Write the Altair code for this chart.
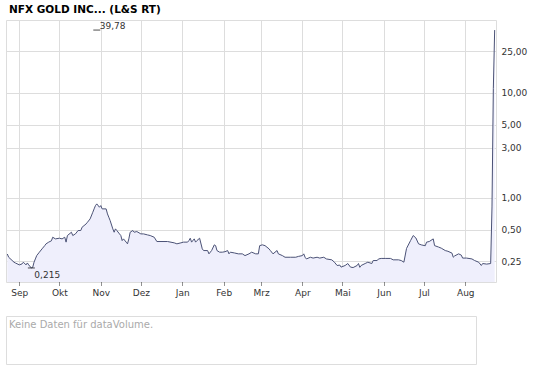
import altair as alt
import pandas as pd

# ---------------- data ----------------
start_date = "2020-08-22"
end_date = "2021-08-24"

day_offset = [1, 2, 6, 7, 10, 12, 13, 15, 16, 17, 19, 20, 21, 22, 23, 25, 27, 29, 30, 32,
              34, 35, 37, 40, 42, 44, 45, 46, 49, 50, 52, 54, 56, 57, 60, 61, 63, 65, 66, 67,
              68, 70, 71, 72, 75, 76, 77, 78, 80, 81, 82, 83, 85, 86, 87, 88, 90, 91, 92, 93,
              95, 96, 98, 101, 103, 106, 108, 111, 113, 121, 126, 128, 131, 133, 136, 137, 138, 139, 141, 142,
              143, 145, 147, 148, 151, 152, 154, 156, 157, 158, 160, 162, 164, 166, 167, 168, 171, 174, 177, 179,
              182, 184, 187, 189, 190, 192, 194, 197, 198, 200, 203, 204, 207, 209, 213, 217, 219, 222, 223, 224,
              225, 228, 230, 233, 235, 238, 240, 244, 246, 248, 250, 251, 254, 256, 258, 260, 263, 264, 265, 266,
              269, 271, 274, 275, 278, 279, 281, 284, 288, 290, 294, 296, 298, 300, 303, 305, 307, 309, 311, 314,
              315, 317, 320, 321, 324, 326, 329, 331, 334, 335, 336, 339, 341, 342, 345, 349, 351, 354, 356, 357,
              360, 363, 364, 365, 366]

price = [0.292, 0.272, 0.244, 0.240, 0.230, 0.235, 0.244, 0.230, 0.240, 0.230, 0.215, 0.218, 0.244, 0.262, 0.282, 0.304, 0.327, 0.351, 0.365, 0.379,
         0.390, 0.422, 0.407, 0.413, 0.407, 0.422, 0.379, 0.438, 0.471, 0.438, 0.454, 0.489, 0.489, 0.526, 0.565, 0.586, 0.631, 0.730, 0.786, 0.845,
         0.877, 0.815, 0.845, 0.786, 0.786, 0.704, 0.655, 0.608, 0.507, 0.471, 0.507, 0.489, 0.454, 0.438, 0.392, 0.407, 0.379, 0.365, 0.407, 0.471,
         0.489, 0.471, 0.478, 0.454, 0.454, 0.444, 0.438, 0.422, 0.384, 0.384, 0.373, 0.365, 0.373, 0.379, 0.379, 0.392, 0.413, 0.379, 0.407, 0.379,
         0.392, 0.413, 0.327, 0.315, 0.315, 0.293, 0.315, 0.357, 0.351, 0.315, 0.304, 0.304, 0.307, 0.315, 0.293, 0.304, 0.299, 0.293, 0.293, 0.282,
         0.293, 0.304, 0.293, 0.293, 0.351, 0.357, 0.351, 0.327, 0.315, 0.293, 0.315, 0.293, 0.282, 0.272, 0.272, 0.272, 0.277, 0.282, 0.293, 0.272,
         0.262, 0.272, 0.267, 0.272, 0.267, 0.272, 0.262, 0.257, 0.244, 0.227, 0.229, 0.219, 0.227, 0.237, 0.219, 0.217, 0.227, 0.237, 0.218, 0.227,
         0.237, 0.244, 0.237, 0.253, 0.253, 0.262, 0.265, 0.265, 0.265, 0.257, 0.257, 0.253, 0.244, 0.330, 0.392, 0.438, 0.415, 0.365, 0.357, 0.350,
         0.379, 0.384, 0.407, 0.351, 0.340, 0.332, 0.315, 0.310, 0.298, 0.272, 0.280, 0.293, 0.285, 0.267, 0.267, 0.262, 0.253, 0.244, 0.227, 0.237,
         0.234, 0.237, 0.820, 11.0, 39.78]

month_names = ["Jan", "Feb", "Mrz", "Apr", "Mai", "Jun", "Jul", "Aug", "Sep", "Okt", "Nov", "Dez"]
tick_months = [(2020, 9), (2020, 10), (2020, 11), (2020, 12), (2021, 1), (2021, 2),
               (2021, 3), (2021, 4), (2021, 5), (2021, 6), (2021, 7), (2021, 8)]
y_ticks = [0.25, 0.5, 1, 3, 5, 10, 25]
y_domain = [0.158, 49.6]

annot_day = [68, 19]
annot_value = [39.78, 0.215]
annot_label = ["39,78", "0,215"]

title_text = "NFX GOLD INC... (L&S RT)"
volume_text = "Keine Daten für dataVolume."

# ---------------- build tables ----------------
base = pd.Timestamp(start_date)
df = pd.DataFrame({
    "date": [(base + pd.Timedelta(days=d)).strftime("%Y-%m-%d") for d in day_offset],
    "price": price,
})
ann = pd.DataFrame({
    "date": [(base + pd.Timedelta(days=d)).strftime("%Y-%m-%d") for d in annot_day],
    "price": annot_value,
    "label": annot_label,
})

FONT = "DejaVu Sans"
LINE = "#4b5276"
FILL = "#efeffc"

sd = pd.Timestamp(start_date)
ed = pd.Timestamp(end_date)
x_scale = alt.Scale(type="utc", domain=[
    alt.DateTime(year=sd.year, month=sd.month, date=sd.day, utc=True),
    alt.DateTime(year=ed.year, month=ed.month, date=ed.day, utc=True)])
month_expr = "[" + ",".join(f"'{m}'" for m in month_names) + "][utcmonth(datum.value)]"

x_enc = alt.X("date:T", scale=x_scale, title=None,
              axis=alt.Axis(values=[alt.DateTime(year=y, month=m, date=1, utc=True) for y, m in tick_months],
                            labelExpr=month_expr, grid=True, gridColor="#dddddd", domain=False,
                            ticks=True, tickColor="#222", tickSize=4, tickDash=[1, 1],
                            labelFont=FONT, labelFontSize=9, labelColor="#333", labelPadding=2,
                            labelFlush=False))
y_scale = alt.Scale(type="log", domain=y_domain, nice=False)
y_enc = alt.Y("price:Q", scale=y_scale, title=None,
              axis=alt.Axis(orient="right", values=y_ticks,
                            labelExpr="replace(format(datum.value, '.2f'), '.', ',')",
                            grid=True, gridColor="#dddddd", domain=False, ticks=False,
                            labelFont=FONT, labelFontSize=9, labelColor="#333", labelPadding=5))

area = alt.Chart(df).mark_area(color=FILL, clip=True).encode(
    x=x_enc, y=y_enc, y2=alt.datum(y_domain[0]))
line = alt.Chart(df).mark_line(color=LINE, strokeWidth=1, clip=True).encode(
    x="date:T", y="price:Q")
ticks = alt.Chart(ann).mark_tick(orient="horizontal", color="#000", size=7, thickness=1).encode(
    x="date:T", y="price:Q")
labels_max = alt.Chart(ann.iloc[[0]]).mark_text(align="left", baseline="alphabetic", dx=3, dy=-1,
                                                  font=FONT, fontSize=9, color="#333").encode(
    x="date:T", y="price:Q", text="label:N")
labels_min = alt.Chart(ann.iloc[[1]]).mark_text(align="left", baseline="top", dx=3, dy=3,
                                                  font=FONT, fontSize=9, color="#333").encode(
    x="date:T", y="price:Q", text="label:N")

main = alt.layer(area, line, ticks, labels_max, labels_min).properties(
    width=490, height=262,
    title=alt.Title(title_text, anchor="start", fontSize=10.5, font=FONT, fontWeight="bold",
                    color="#000", offset=5, dx=3))

vol = alt.Chart(pd.DataFrame({"msg": [volume_text]})).mark_text(
    align="left", baseline="top", color="#aaaaaa", fontSize=10, font=FONT).encode(
    x=alt.value(3), y=alt.value(4), text="msg:N").properties(width=470, height=48)

chart = alt.vconcat(main, vol, spacing=17).properties(
    padding={"left": 5, "top": 4, "right": 0, "bottom": 0}
).configure_view(stroke="#cccccc").configure(background="white")

chart.save("out.html", embed_options={"renderer": "svg", "actions": False})
